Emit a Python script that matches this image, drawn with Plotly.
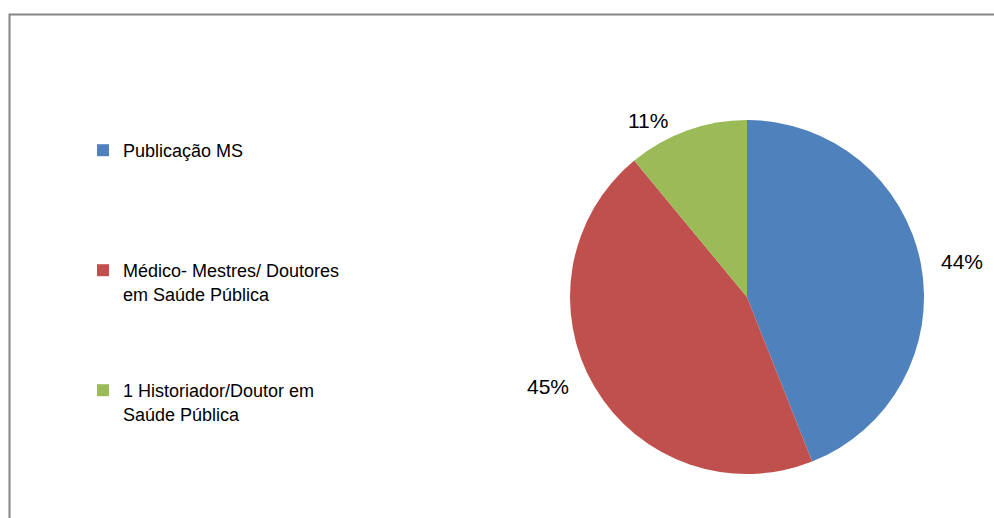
import plotly.graph_objects as go

# Share of authorship categories
labels = [
    "Publicação MS",
    "Médico- Mestres/ Doutores<br>em Saúde Pública",
    "1 Historiador/Doutor em<br>Saúde Pública",
]
values = [44, 45, 11]
colors = ["#4F81BD", "#C0504D", "#9BBB59"]

# Legend rows are spaced out with empty lines under each entry
pad_lines = [4, 3, 3]
legend_labels = [lab + "<br> " * n for lab, n in zip(labels, pad_lines)]

W, H = 994, 518

fig = go.Figure(
    go.Pie(
        labels=legend_labels,
        values=values,
        marker=dict(colors=colors, line=dict(width=0)),
        sort=False,
        direction="clockwise",
        rotation=0,
        textinfo="none",
        hoverinfo="skip",
        domain=dict(x=[570 / W, 924 / W], y=[44 / H, 398 / H]),
    )
)

# Percentage labels placed outside the slices
label_pos = [(962, 261), (548, 386), (648, 121)]
for v, (px, py) in zip(values, label_pos):
    fig.add_annotation(
        x=px / W, y=1 - py / H, xref="paper", yref="paper",
        text=f"{v}%", showarrow=False,
        font=dict(family="Liberation Sans, Arial, sans-serif", size=21, color="#000000"),
        xanchor="center", yanchor="middle",
    )

# Chart area frame (top and left edges visible)
fig.add_shape(
    type="rect", xref="paper", yref="paper",
    x0=9.5 / W, x1=1.05, y0=-0.05, y1=1 - 14.5 / H,
    line=dict(color="#868686", width=2), fillcolor="rgba(0,0,0,0)",
)

fig.update_layout(
    width=W, height=H,
    margin=dict(l=0, r=0, t=0, b=0),
    paper_bgcolor="white",
    plot_bgcolor="white",
    showlegend=True,
    legend=dict(
        x=83 / W, y=1 - 132 / H, xanchor="left", yanchor="top",
        valign="top",
        bgcolor="rgba(0,0,0,0)",
        font=dict(family="Liberation Sans, Arial, sans-serif", size=18, color="#000000"),
        itemclick=False, itemdoubleclick=False,
    ),
)

fig.write_html("out.html")
